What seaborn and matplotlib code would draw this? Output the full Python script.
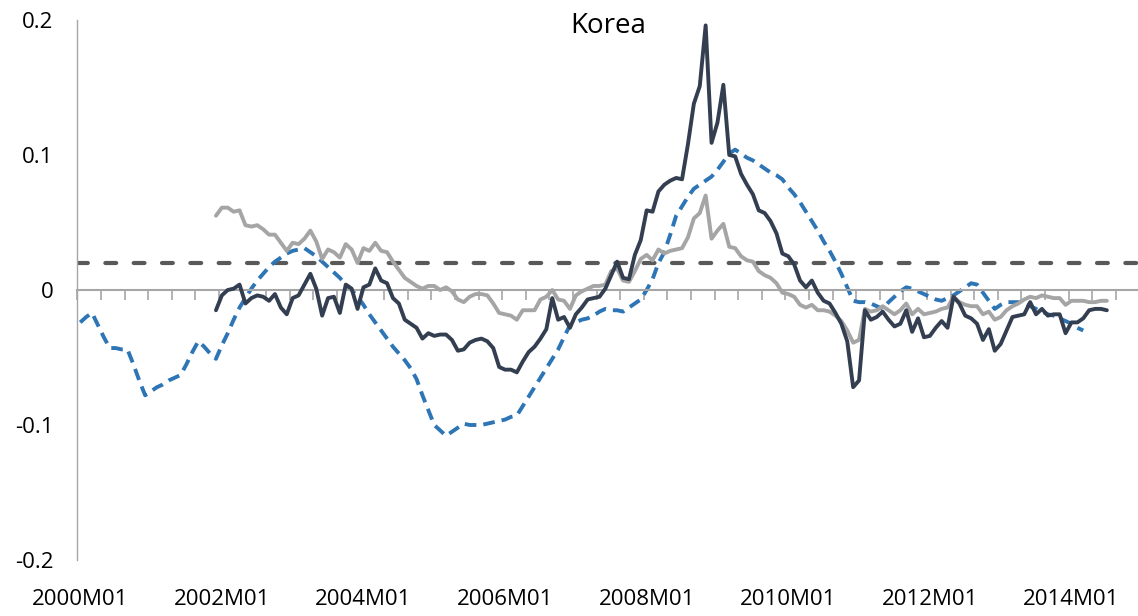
import numpy as np
import pandas as pd
import matplotlib
matplotlib.use("Agg")
import matplotlib.pyplot as plt
import seaborn as sns

# ---- categories: monthly periods 2000M01 .. 2014M12 ----
start_year = 2000
n_months = 180
periods = [f"{start_year + i // 12}M{i % 12 + 1:02d}" for i in range(n_months)]
label_every = 24          # one label every two years
tick_every = 4            # a tick mark every four months

y_ticks = [-0.2, -0.1, 0.0, 0.1, 0.2]
y_tick_labels = ["-0.2", "-0.1", "0", "0.1", "0.2"]
title = "Korea"

# ---- series values ----
# gap series begin at 2001M12 (index 23)
gap_start = 23
gap_main = [
    -0.015, -0.004, 0.000, 0.001, 0.004, -0.010, -0.006, -0.004, -0.005, -0.008,
    -0.003, -0.013, -0.018, -0.006, -0.004, 0.004, 0.012, 0.001, -0.019, -0.006,
    -0.005, -0.017, 0.004, 0.001, -0.014, 0.002, 0.004, 0.016, 0.007, 0.005,
    -0.006, -0.010, -0.022, -0.025, -0.028, -0.036, -0.032, -0.034, -0.033, -0.033,
    -0.037, -0.045, -0.044, -0.039, -0.037, -0.036, -0.038, -0.043, -0.057, -0.059,
    -0.059, -0.061, -0.053, -0.046, -0.042, -0.036, -0.029, -0.006, -0.022, -0.020,
    -0.028, -0.018, -0.013, -0.007, -0.006, -0.005, 0.001, 0.011, 0.021, 0.009,
    0.008, 0.026, 0.037, 0.059, 0.058, 0.073, 0.078, 0.081, 0.083, 0.082,
    0.108, 0.138, 0.151, 0.196, 0.109, 0.124, 0.152, 0.100, 0.099, 0.086,
    0.078, 0.071, 0.059, 0.057, 0.051, 0.042, 0.027, 0.025, 0.019, 0.007,
    0.002, 0.007, -0.002, -0.008, -0.010, -0.017, -0.025, -0.038, -0.072, -0.067,
    -0.015, -0.022, -0.020, -0.016, -0.022, -0.027, -0.025, -0.015, -0.031, -0.021,
    -0.035, -0.034, -0.028, -0.023, -0.028, -0.005, -0.010, -0.019, -0.021, -0.025,
    -0.037, -0.029, -0.045, -0.040, -0.030, -0.020, -0.019, -0.018, -0.009, -0.018,
    -0.014, -0.019, -0.018, -0.018, -0.032, -0.024, -0.024, -0.021, -0.015, -0.014,
    -0.014, -0.015,
]
gap_alt = [
    0.055, 0.061, 0.061, 0.058, 0.059, 0.048, 0.047, 0.048, 0.045, 0.041,
    0.041, 0.035, 0.029, 0.035, 0.034, 0.038, 0.044, 0.036, 0.023, 0.030,
    0.028, 0.024, 0.034, 0.030, 0.020, 0.031, 0.029, 0.035, 0.029, 0.028,
    0.021, 0.015, 0.009, 0.006, 0.003, 0.001, 0.003, 0.003, 0.000, 0.002,
    -0.001, -0.007, -0.009, -0.005, -0.003, -0.003, -0.004, -0.010, -0.017, -0.018,
    -0.019, -0.022, -0.015, -0.015, -0.015, -0.007, -0.005, 0.000, -0.007, -0.008,
    -0.014, -0.004, -0.001, 0.001, 0.003, 0.003, 0.004, 0.014, 0.016, 0.007,
    0.006, 0.014, 0.023, 0.026, 0.022, 0.030, 0.027, 0.029, 0.030, 0.031,
    0.039, 0.053, 0.057, 0.070, 0.038, 0.044, 0.049, 0.032, 0.031, 0.025,
    0.022, 0.021, 0.014, 0.011, 0.009, 0.005, -0.002, -0.003, -0.005, -0.011,
    -0.013, -0.011, -0.015, -0.015, -0.016, -0.019, -0.023, -0.030, -0.039, -0.037,
    -0.014, -0.016, -0.015, -0.012, -0.015, -0.018, -0.015, -0.010, -0.018, -0.014,
    -0.018, -0.017, -0.016, -0.014, -0.013, -0.005, -0.009, -0.011, -0.012, -0.012,
    -0.018, -0.016, -0.022, -0.020, -0.015, -0.012, -0.010, -0.007, -0.005, -0.006,
    -0.004, -0.005, -0.006, -0.006, -0.011, -0.008, -0.008, -0.008, -0.009, -0.009,
    -0.008, -0.008,
]
# trend series begins at 2000M01
trend_start = 0
trend_gap = [
    -0.024, -0.020, -0.017, -0.026, -0.035, -0.043, -0.043, -0.044, -0.044, -0.055,
    -0.067, -0.078, -0.075, -0.072, -0.070, -0.067, -0.065, -0.063, -0.055, -0.046,
    -0.038, -0.042, -0.047, -0.051, -0.041, -0.032, -0.022, -0.013, -0.006, 0.001,
    0.007, 0.012, 0.017, 0.021, 0.024, 0.027, 0.029, 0.030, 0.031, 0.028,
    0.025, 0.021, 0.017, 0.013, 0.009, 0.004, 0.000, -0.005, -0.011, -0.018,
    -0.024, -0.030, -0.036, -0.042, -0.047, -0.052, -0.058, -0.066, -0.078, -0.089,
    -0.100, -0.104, -0.108, -0.105, -0.102, -0.099, -0.100, -0.100, -0.100, -0.099,
    -0.098, -0.097, -0.096, -0.094, -0.093, -0.086, -0.079, -0.072, -0.065, -0.058,
    -0.051, -0.044, -0.035, -0.026, -0.024, -0.022, -0.021, -0.019, -0.016, -0.014,
    -0.015, -0.015, -0.016, -0.013, -0.010, -0.007, 0.000, 0.008, 0.020, 0.028,
    0.041, 0.055, 0.062, 0.069, 0.075, 0.078, 0.081, 0.084, 0.089, 0.095,
    0.101, 0.104, 0.101, 0.098, 0.096, 0.093, 0.090, 0.087, 0.085, 0.082,
    0.076, 0.071, 0.065, 0.058, 0.051, 0.044, 0.036, 0.029, 0.021, 0.012,
    0.002, -0.008, -0.009, -0.009, -0.010, -0.012, -0.014, -0.009, -0.005, -0.001,
    0.002, 0.001, -0.001, -0.003, -0.005, -0.007, -0.008, -0.006, -0.004, -0.001,
    0.002, 0.005, 0.004, -0.002, -0.008, -0.014, -0.011, -0.009, -0.009, -0.009,
    -0.010, -0.012, -0.014, -0.016, -0.018, -0.019, -0.021, -0.023, -0.025, -0.028,
    -0.030,
]
threshold = 0.02


def to_frame(values, start):
    idx = np.arange(start, start + len(values))
    return pd.DataFrame({
        "pos": idx + 0.5,                      # centre of each monthly category
        "period": [periods[i] for i in idx],
        "value": values,
    })


sns.set_style("white")
plt.rcParams["font.family"] = ["Open Sans", "DejaVu Sans"]

W, H = 1138, 616
fig = plt.figure(figsize=(W / 100, H / 100), dpi=100)
ax = fig.add_axes([77.3 / W, 56 / H, 1062 / W, 540 / H])

# threshold line
ax.axhline(threshold, color="#595959", lw=3.0, linestyle=(0, (2.6, 4.2)),
           dash_capstyle="round", zorder=1)

# trend (dashed blue)
sns.lineplot(data=to_frame(trend_gap, trend_start), x="pos", y="value", ax=ax,
             color="#2E75B6", lw=2.8, linestyle=(0, (3.0, 1.8)),
             estimator=None, sort=False, zorder=2)
# alternative gap (light grey)
sns.lineplot(data=to_frame(gap_alt, gap_start), x="pos", y="value", ax=ax,
             color="#A5A5A5", lw=2.8, estimator=None, sort=False, zorder=3)
# main gap (dark slate)
sns.lineplot(data=to_frame(gap_main, gap_start), x="pos", y="value", ax=ax,
             color="#333F50", lw=2.8, estimator=None, sort=False, zorder=4)

ax.set_xlim(0, n_months)
ax.set_ylim(-0.2, 0.2)
ax.set_xlabel("")
ax.set_ylabel("")

# horizontal axis crosses at zero, with tick marks every four months
ax.spines["bottom"].set_position(("data", 0))
ax.spines["bottom"].set_color("#A6A6A6")
ax.spines["bottom"].set_linewidth(1.5)
ax.spines["left"].set_color("#A6A6A6")
ax.spines["left"].set_linewidth(1.0)
ax.spines["top"].set_visible(False)
ax.spines["right"].set_visible(False)
ax.set_xticks(np.arange(0, n_months + 1, tick_every))
ax.tick_params(axis="x", direction="out", length=7, width=1.2, color="#A6A6A6",
               labelbottom=False, bottom=True)

# y axis labels
ax.set_yticks(y_ticks)
ax.set_yticklabels(y_tick_labels)
ax.tick_params(axis="y", length=0, pad=17, labelsize=16, labelcolor="black")

# category labels sit at the bottom of the plot area
label_idx = list(range(0, n_months, label_every))
sec = ax.secondary_xaxis("bottom")
sec.set_xticks([i + 0.5 for i in label_idx])
sec.set_xticklabels([periods[i] for i in label_idx])
sec.tick_params(axis="x", length=0, pad=21, labelsize=16, labelcolor="black")
sec.spines["bottom"].set_visible(False)

ax.set_title(title, fontsize=20, y=0.976, pad=0, color="black")

fig.savefig("out.png", dpi=100)
